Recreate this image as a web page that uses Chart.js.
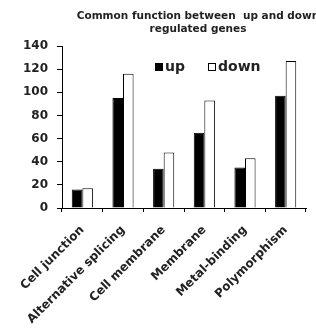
<!DOCTYPE html>
<html>
<head>
<meta charset="utf-8">
<script src="https://cdn.jsdelivr.net/npm/chart.js@4"></script>
<style>
  html, body { margin: 0; padding: 0; background: #fff; }
  #wrap { width: 316px; height: 328px; }
</style>
</head>
<body>
<div id="wrap"><canvas id="chart"></canvas></div>
<script>
// data
const categories = ['Cell junction', 'Alternative splicing', 'Cell membrane', 'Membrane', 'Metal-binding', 'Polymorphism'];
const upValues = [16, 95, 34, 65, 35, 97];
const downValues = [17, 116, 48, 93, 43, 127];
const titleLines = ['Common function between  up and down', 'regulated genes'];

const FONT = "'DejaVu Sans', sans-serif";
Chart.defaults.font.family = FONT;
Chart.defaults.color = '#222';

// title sits a bit right of the plot centre, legend sits inside the plot
const figureText = {
    id: 'figureText',
    afterDraw(chart) {
        const { ctx, chartArea } = chart;
        ctx.save();
        ctx.fillStyle = '#222';
        ctx.textAlign = 'center';
        ctx.textBaseline = 'middle';
        ctx.font = 'bold 10.5px ' + FONT;
        const cx = (chartArea.left + chartArea.right) / 2 + 14;
        titleLines.forEach((line, i) => ctx.fillText(line, cx, 16 + i * 13));

        // legend
        let x = chartArea.left + 93;
        const y = chartArea.top + 21;
        ctx.font = 'bold 14px ' + FONT;
        ctx.textAlign = 'left';
        chart.data.datasets.forEach(ds => {
            ctx.fillStyle = ds.backgroundColor;
            ctx.strokeStyle = ds.borderColor;
            ctx.lineWidth = 1;
            ctx.fillRect(x + 0.5, y - 3.5, 7, 7);
            ctx.strokeRect(x + 0.5, y - 3.5, 7, 7);
            ctx.fillStyle = '#222';
            ctx.fillText(ds.label, x + 10, y);
            x += 10 + ctx.measureText(ds.label).width + 23;
        });
        ctx.restore();
    }
};

new Chart(document.getElementById('chart'), {
    type: 'bar',
    data: {
        labels: categories,
        datasets: [
            {
                label: 'up',
                data: upValues,
                backgroundColor: '#000',
                borderColor: '#000',
                borderWidth: 1
            },
            {
                label: 'down',
                data: downValues,
                backgroundColor: '#fff',
                borderColor: '#000',
                borderWidth: 1
            }
        ]
    },
    plugins: [figureText],
    options: {
        responsive: true,
        maintainAspectRatio: false,
        animation: false,
        layout: { padding: { top: 46, right: 10, left: 9, bottom: 0 } },
        datasets: {
            bar: { categoryPercentage: 0.52, barPercentage: 1.0 }
        },
        plugins: {
            title: { display: false },
            legend: { display: false },
            tooltip: { enabled: false }
        },
        scales: {
            x: {
                afterFit(scale) { scale.height = 120; },
                grid: { display: true, drawOnChartArea: false, tickLength: 4, color: '#000' },
                border: { display: true, color: '#000', width: 1 },
                ticks: {
                    minRotation: 45,
                    maxRotation: 45,
                    padding: 11,
                    color: '#222',
                    font: { size: 12, weight: 'bold' }
                }
            },
            y: {
                min: 0,
                max: 140,
                afterFit(scale) { scale.width = 53; },
                grid: { display: true, drawOnChartArea: false, tickLength: 5, color: '#000' },
                border: { display: true, color: '#000', width: 1 },
                ticks: {
                    stepSize: 20,
                    padding: 9,
                    color: '#222',
                    font: { size: 12, weight: 'bold' }
                }
            }
        }
    }
});
</script>
</body>
</html>
